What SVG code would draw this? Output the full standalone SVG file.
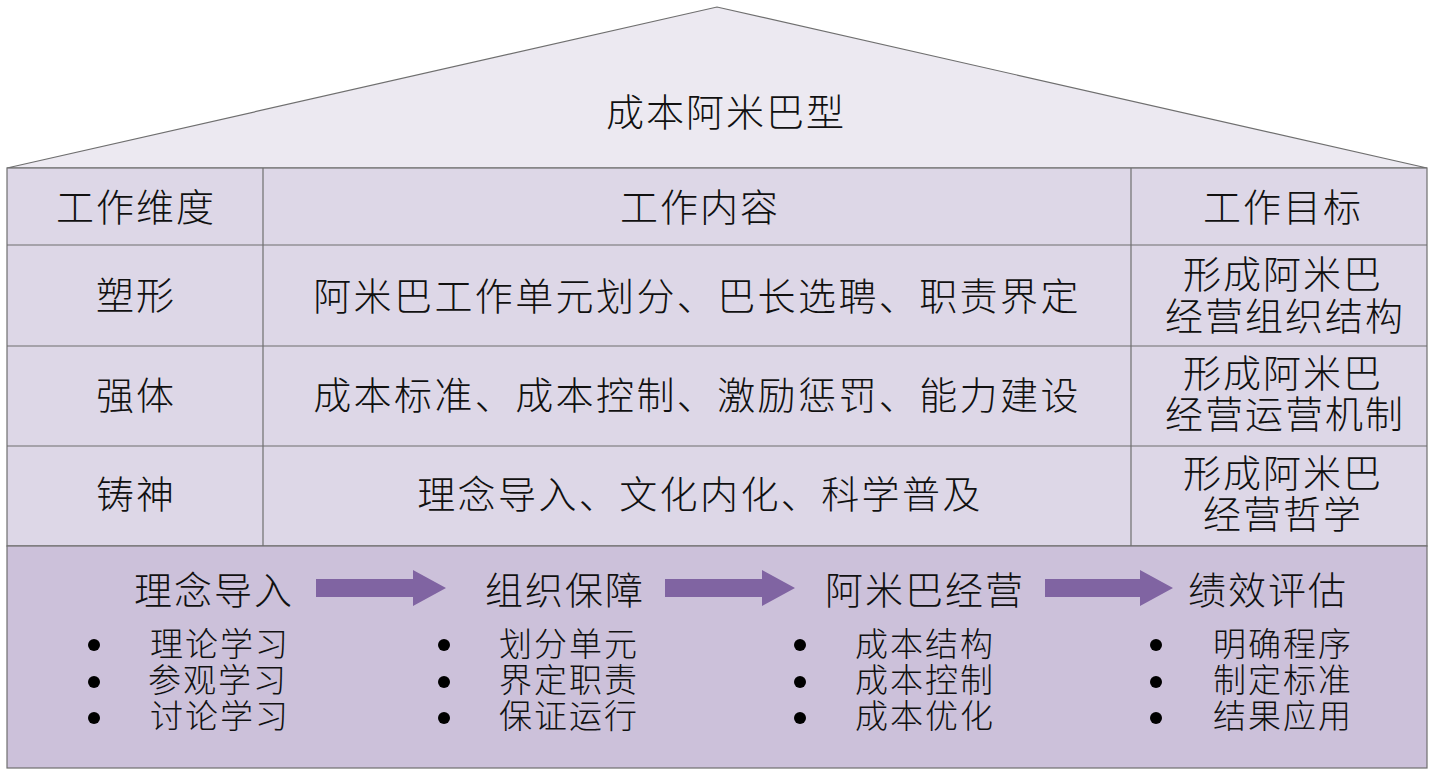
<svg xmlns="http://www.w3.org/2000/svg" width="1441" height="780" viewBox="0 0 1441 780">
<defs>
<style>
text{font-family:"Noto Sans CJK SC","Noto Sans CJK JP",sans-serif;fill:#111;font-weight:300}
.c{text-anchor:middle}
.t{font-size:38px;letter-spacing:2px}
.w{letter-spacing:2.4px}
.b{font-size:33px;letter-spacing:2px}
.cell{stroke:#6f6f6f;stroke-width:1.2}
.arrow{fill:#8064A2}
</style>
</defs>
<rect width="1441" height="780" fill="#ffffff"/>
<g id="roof">
<polygon points="7,168 717,7 1427,168" fill="#ECE9F1" stroke="#6f6f6f" stroke-width="1.2"/>
<text class="t c" x="726" y="126">成本阿米巴型</text>
</g>
<g id="table">
<rect class="cell" x="7" y="168" width="1420" height="378" fill="#DDD7E7"/>
<line class="cell" x1="7" y1="245" x2="1427" y2="245"/>
<line class="cell" x1="7" y1="346" x2="1427" y2="346"/>
<line class="cell" x1="7" y1="446" x2="1427" y2="446"/>
<line class="cell" x1="263" y1="168" x2="263" y2="546"/>
<line class="cell" x1="1131" y1="168" x2="1131" y2="546"/>
</g>
<g id="header">
<text class="t c" x="136" y="221">工作维度</text>
<text class="t c" x="700" y="221">工作内容</text>
<text class="t c" x="1283" y="221">工作目标</text>
</g>
<g id="row-suxing">
<text class="t c" x="136" y="309">塑形</text>
<text class="t c w" x="697" y="310">阿米巴工作单元划分、巴长选聘、职责界定</text>
<text class="t c"><tspan x="1283" y="288">形成阿米巴</tspan><tspan x="1285" y="330">经营组织结构</tspan></text>
</g>
<g id="row-qiangti">
<text class="t c" x="136" y="409">强体</text>
<text class="t c w" x="697" y="409">成本标准、成本控制、激励惩罚、能力建设</text>
<text class="t c"><tspan x="1283" y="387">形成阿米巴</tspan><tspan x="1285" y="428">经营运营机制</tspan></text>
</g>
<g id="row-zhushen">
<text class="t c" x="136" y="508">铸神</text>
<text class="t c w" x="700" y="508">理念导入、文化内化、科学普及</text>
<text class="t c"><tspan x="1283" y="487">形成阿米巴</tspan><tspan x="1283" y="528">经营哲学</tspan></text>
</g>
<g id="process">
<rect class="cell" x="7" y="546" width="1420" height="222" fill="#CCC1DA"/>
</g>
<g id="step1">
<text class="t c" x="214" y="604">理念导入</text>
<circle cx="94" cy="645" r="6" fill="#000"/>
<circle cx="94" cy="682" r="6" fill="#000"/>
<circle cx="94" cy="718" r="6" fill="#000"/>
<text class="b"><tspan x="150" y="656">理论学习</tspan><tspan x="148" y="692">参观学习</tspan><tspan x="150" y="728">讨论学习</tspan></text>
</g>
<g id="step2">
<text class="t c" x="565" y="604">组织保障</text>
<circle cx="444" cy="645" r="6" fill="#000"/>
<circle cx="444" cy="682" r="6" fill="#000"/>
<circle cx="444" cy="718" r="6" fill="#000"/>
<text class="b"><tspan x="499" y="656">划分单元</tspan><tspan x="499" y="692">界定职责</tspan><tspan x="499" y="728">保证运行</tspan></text>
</g>
<g id="step3">
<text class="t c" x="925" y="604">阿米巴经营</text>
<circle cx="800" cy="645" r="6" fill="#000"/>
<circle cx="800" cy="682" r="6" fill="#000"/>
<circle cx="800" cy="718" r="6" fill="#000"/>
<text class="b"><tspan x="855" y="656">成本结构</tspan><tspan x="855" y="692">成本控制</tspan><tspan x="855" y="728">成本优化</tspan></text>
</g>
<g id="step4">
<text class="t c" x="1268" y="604">绩效评估</text>
<circle cx="1156" cy="645" r="6" fill="#000"/>
<circle cx="1156" cy="682" r="6" fill="#000"/>
<circle cx="1156" cy="718" r="6" fill="#000"/>
<text class="b"><tspan x="1213" y="656">明确程序</tspan><tspan x="1213" y="692">制定标准</tspan><tspan x="1213" y="728">结果应用</tspan></text>
</g>
<g id="connectors">
<polygon class="arrow" points="316,579 413,579 413,570 446,588 413,606 413,597 316,597"/>
<polygon class="arrow" points="665,579 762,579 762,570 795,588 762,606 762,597 665,597"/>
<polygon class="arrow" points="1045,579 1140,579 1140,570 1173,588 1140,606 1140,597 1045,597"/>
</g>
</svg>
